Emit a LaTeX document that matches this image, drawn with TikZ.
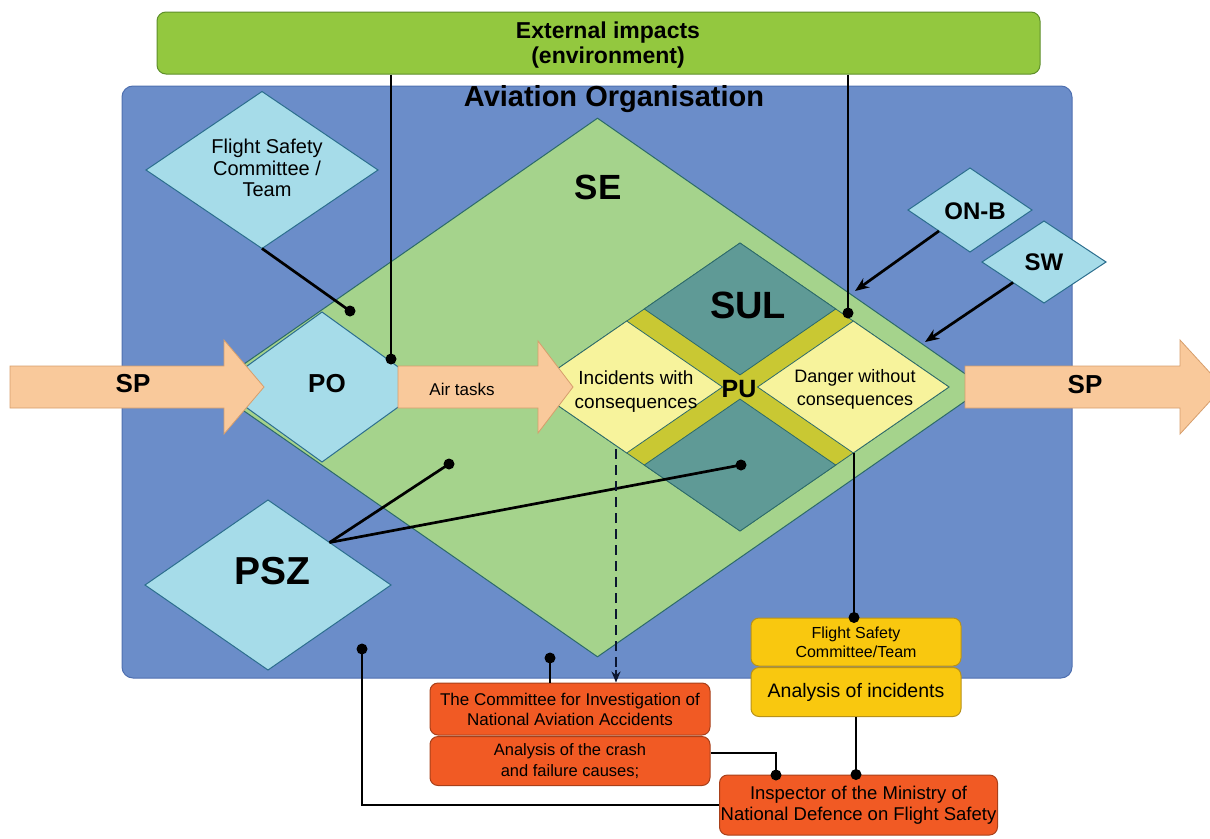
\documentclass[tikz,border=0pt]{standalone}
\usepackage{fontspec}
\setmainfont{Liberation Sans}
\usetikzlibrary{shapes.geometric,arrows.meta,calc}

\definecolor{orgblue}{HTML}{6B8DC9}
\definecolor{orgedge}{HTML}{4F70B0}
\definecolor{segreen}{HTML}{A5D38C}
\definecolor{seedge}{HTML}{2C6A6A}
\definecolor{extgreen}{HTML}{93C83F}
\definecolor{extedge}{HTML}{5E8F2A}
\definecolor{paleblue}{HTML}{A6DCE9}
\definecolor{paleedge}{HTML}{2C6E8E}
\definecolor{sulteal}{HTML}{5F9A96}
\definecolor{bandolive}{HTML}{C9C833}
\definecolor{paleyellow}{HTML}{F7F39C}
\definecolor{peach}{HTML}{F9C99B}
\definecolor{peachedge}{HTML}{D69E6C}
\definecolor{redorange}{HTML}{F15A24}
\definecolor{redorangeedge}{HTML}{A8401A}
\definecolor{goldbox}{HTML}{F9C80F}
\definecolor{goldedge}{HTML}{B8921A}
\definecolor{dashnavy}{HTML}{0B1630}

\newcommand\fsz[2]{\fontsize{#1}{#2}\selectfont}

\tikzset{
  bluediamond/.style={diamond, draw=paleedge, fill=paleblue, line width=1pt, inner sep=0pt, outer sep=0pt},
  conn/.style={line width=2.7pt, black},
  dashconn/.style={line width=2.7pt, dashnavy, dash pattern=on 10pt off 6pt},
  dotmark/.style={circle, fill=black, inner sep=0pt, minimum size=11pt},
  arrowshape/.style={fill=peach, draw=peachedge, line width=0.8pt},
  redbox/.style={rounded corners=8pt, draw=redorangeedge, fill=redorange, line width=1pt, align=center, inner sep=0pt},
  goldbx/.style={rounded corners=8pt, draw=goldedge, fill=goldbox, line width=1pt, align=center, inner sep=0pt},
  quad/.style={draw=seedge, line width=0.8pt},
  headtip/.style={-{Stealth[length=14pt,width=11pt]}}
}

\begin{document}
\begin{tikzpicture}[x=1pt,y=-1pt]
\useasboundingbox (0,0) rectangle (1210,838);

% environment box
\node[rounded corners=9pt, draw=extedge, fill=extgreen, line width=1pt,
      minimum width=883pt, minimum height=62pt, inner sep=0pt] (ext) at (598.5,43) {};
\node[font=\fsz{23}{25.5}\bfseries, align=center, inner sep=0pt] (exttext) at (608,45) {External impacts\\(environment)};

% organisation frame
\node[rounded corners=11pt, draw=orgedge, fill=orgblue, line width=1pt,
      minimum width=950pt, minimum height=592pt, inner sep=0pt] (org) at (597,382) {};
\node[font=\fsz{29}{31}\bfseries, inner sep=0pt] (orgtitle) at (614,99) {Aviation Organisation};

% SE area
\node[diamond, draw=seedge, fill=segreen, line width=1pt, inner sep=0pt,
      minimum width=775pt, minimum height=539pt] (se) at (597.5,387.5) {};
\node[font=\fsz{35}{38}\bfseries, inner sep=0pt] (selabel) at (598,187) {SE};

% committee diamond
\node[bluediamond, minimum width=232pt, minimum height=157pt] (fsc) at (262,170) {};
\node[font=\fsz{20}{21.5}, align=center, inner sep=0pt] (fsctext) at (267,168) {Flight Safety\\Committee /\\Team};

% PO and PSZ
\node[bluediamond, minimum width=208pt, minimum height=150pt] (po) at (322,387) {};
\node[bluediamond, minimum width=246pt, minimum height=170pt] (psz) at (268,585) {};
\node[font=\fsz{39}{40}\bfseries, inner sep=0pt] (psztext) at (272,571) {PSZ};

% PU cross with its four quarters
\begin{scope}[shift={(531,387)}, x={(209pt,144pt)}, y={(209pt,-144pt)}]
  \filldraw[quad, fill=bandolive] (0,0) -- (1,0) -- (1,1) -- (0,1) -- cycle;
  \filldraw[quad, fill=sulteal] (0.542,0) -- (1,0) -- (1,0.458) -- (0.542,0.458) -- cycle;
  \filldraw[quad, fill=paleyellow] (0,0) -- (0.458,0) -- (0.458,0.458) -- (0,0.458) -- cycle;
  \filldraw[quad, fill=paleyellow] (0.542,0.542) -- (1,0.542) -- (1,1) -- (0.542,1) -- cycle;
  \filldraw[quad, fill=sulteal] (0,0.542) -- (0.458,0.542) -- (0.458,1) -- (0,1) -- cycle;
\end{scope}
\node[font=\fsz{38}{40}\bfseries, inner sep=0pt] (sul) at (748,305) {SUL};
\node[font=\fsz{25}{27}\bfseries, inner sep=0pt] (pu) at (739,389) {PU};
\node[font=\fsz{19}{24}, align=center, inner sep=0pt] (incid) at (636,392) {Incidents with\\consequences};
\node[font=\fsz{18}{23}, align=center, inner sep=0pt] (danger) at (855,389) {Danger without\\consequences};

% flow arrows
\filldraw[arrowshape] (10,366) -- (224,366) -- (224,340) -- (264,387) -- (224,434) -- (224,408) -- (10,408) -- cycle;
\filldraw[arrowshape] (398,366) -- (538,366) -- (538,341) -- (573,387) -- (538,433) -- (538,408) -- (398,408) -- cycle;
\filldraw[arrowshape] (965,366) -- (1180,366) -- (1180,340) -- (1223,387) -- (1180,434) -- (1180,408) -- (965,408) -- cycle;
\node[font=\fsz{26}{28}\bfseries, inner sep=0pt] (spin) at (133,384) {SP};
\node[font=\fsz{26}{28}\bfseries, inner sep=0pt] (potext) at (327,384) {PO};
\node[font=\fsz{17}{19}, inner sep=0pt] (airtasks) at (462,389) {Air tasks};
\node[font=\fsz{26}{28}\bfseries, inner sep=0pt] (spout) at (1085,385) {SP};

% ON-B and SW
\node[bluediamond, minimum width=124pt, minimum height=84pt] (onb) at (970,210) {};
\node[font=\fsz{24}{26}\bfseries, inner sep=0pt] (onbtext) at (975,211) {ON-B};
\node[bluediamond, minimum width=124pt, minimum height=82pt] (sw) at (1044,262) {};
\node[font=\fsz{24}{26}\bfseries, inner sep=0pt] (swtext) at (1044,262) {SW};
\coordinate (onbtip) at (855,291);
\coordinate (swtip) at (925,342);

% bottom boxes
\node[goldbx, minimum width=210pt, minimum height=48pt, font=\fsz{16}{19}] (fscbox) at (856,642) {Flight Safety\\Committee/Team};
\node[goldbx, minimum width=210pt, minimum height=49pt, font=\fsz{19.5}{21}] (anbox) at (856,692) {Analysis of incidents};
\node[redbox, minimum width=280pt, minimum height=52pt, font=\fsz{17}{20}] (cia) at (570,709) {The Committee for Investigation of\\National Aviation Accidents};
\node[redbox, minimum width=280pt, minimum height=49pt, font=\fsz{16.5}{21}] (crash) at (570,761) {Analysis of the crash\\and failure causes;};
\node[redbox, minimum width=278pt, minimum height=60pt, font=\fsz{18.5}{21}] (insp) at (858.5,805) {Inspector of the Ministry of\\National Defence on Flight Safety};

% junction dots
\node[dotmark] (dfsc) at (350,311) {};
\node[dotmark] (dpo) at (391,359) {};
\node[dotmark] (dse) at (449,464) {};
\node[dotmark] (dpu) at (741,465) {};
\node[dotmark] (dsul) at (848,313) {};
\node[dotmark] (dorg) at (362,649) {};
\node[dotmark] (dcia) at (550,658) {};
\coordinate (dangerbot) at (854,453);
\coordinate (dashtop) at (616,449);
\node[dotmark] (dyel) at (dangerbot |- fscbox.north) {};
\node[dotmark] (dinsp1) at (776,775) {};
\node[dotmark] (dinsp2) at (anbox.south |- insp.north) {};

% connectors
\draw[conn] (fsc.south) -- (dfsc.center);
\draw[conn] (dpo |- ext.south) -- (dpo.center);
\draw[conn] (dsul |- ext.south) -- (dsul.center);
\draw[conn, headtip] (onb.south west) -- (onbtip);
\draw[conn, headtip] (sw.south west) -- (swtip);
\draw[conn] (psz.north east) -- (dse.center);
\draw[conn] (psz.north east) -- (dpu.center);
\draw[dashconn] (dashtop) -- ($(dashtop |- cia.north)+(0,-11)$);
\draw[line width=2pt, dashnavy, -{Stealth[length=11pt,width=9pt]}] ($(dashtop |- cia.north)+(0,-13)$) -- (dashtop |- cia.north);
\draw[conn] (dangerbot) -- (dyel.center);
\draw[conn] (anbox.south) -- (dinsp2.center);
\draw[conn] ([yshift=8pt]crash.east) -| (dinsp1.center);
\draw[conn] (dorg.center) |- (insp.west);
\draw[conn] (dcia.center) -- (dcia |- cia.north);
\end{tikzpicture}
\end{document}
